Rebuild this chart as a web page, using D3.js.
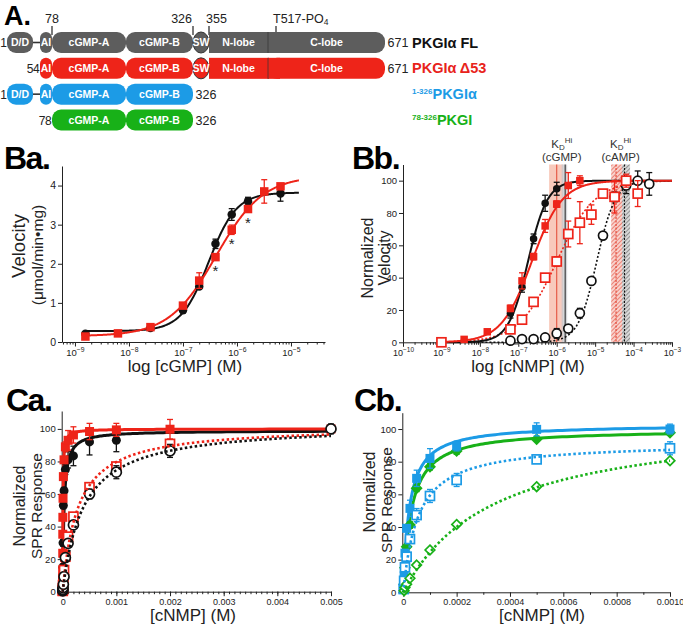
<!DOCTYPE html>
<html><head><meta charset="utf-8">
<script src="https://cdn.jsdelivr.net/npm/d3@7"></script>
<style>
body{margin:0;background:#fff}
svg{display:block}
text{font-family:"Liberation Sans",Arial,Helvetica,sans-serif}
</style>
</head><body>
<svg id="c" width="683" height="629"></svg>
<script>
// ---------------- DATA ----------------
// Panel A: domain schematic
const constructs = ["PKGIα FL", "PKGIα Δ53", "PKGIα", "PKGI"];
const constructPrefix = ["", "", "1-326", "78-326"];
const constructStart = [1, 54, 1, 78];
const constructEnd = [671, 671, 326, 326];
const domainNames = ["D/D", "AI", "cGMP-A", "cGMP-B", "SW", "N-lobe", "C-lobe"];
const domainStart = [1, 54, 78, 200, 326, 355, 480];
const domainEnd = [45, 78, 200, 326, 355, 480, 671];
const constructDomains = [[0,1,2,3,4,5,6], [1,2,3,4,5,6], [0,1,2,3], [2,3]];
const siteLabels = ["78", "326", "355", "T517-PO"];
const siteResidues = [78, 326, 355, 517];

// Panel Ba: velocity vs log [cGMP]
const baConc = [1.56e-9, 6.25e-9, 2.5e-8, 1e-7, 2e-7, 4e-7, 8e-7, 1.6e-6, 3.2e-6, 6.4e-6];
const baFL = [0.21, null, 0.36, 0.81, 1.42, 2.51, 3.26, 3.60, null, 3.80];
const baFLErr = [0.03, null, 0.03, 0.06, 0.05, 0.12, 0.15, 0.10, null, 0.20];
const baD53 = [0.14, 0.22, 0.38, 0.93, 1.57, 2.17, 2.87, 3.40, 3.85, 3.98];
const baD53Err = [0.04, 0.03, 0.04, 0.06, 0.20, 0.06, 0.12, 0.06, 0.30, 0.05];
const baFitFL = [0.28, 3.82, 3.0e-7, 1.7];   // bottom, top, EC50, Hill
const baFitD53 = [0.15, 4.25, 4.1e-7, 1.0];
const baSignif = [4e-7, 8e-7, 1.6e-6];

// Panel Bb: normalized velocity vs log [cNMP]
const bbFLcGMPx = [6.25e-8, 1.25e-7, 2.5e-7, 5e-7, 1e-6];
const bbFLcGMPy = [18, 34, 64, 86, 95];
const bbFLcGMPe = [3, 3, 3, 5, 4];
const bbD53cGMPx = [3.9e-9, 1.56e-8, 6.25e-8, 1.25e-7, 2.5e-7, 5e-7, 1e-6, 2e-6, 4e-6];
const bbD53cGMPy = [1.8, 6.5, 21, 38, 53, 72, 85.5, 97, 100];
const bbD53cGMPe = [1, 1.5, 2, 5, 2, 4, 2, 8, 3];
const bbD53cAMPx = [1e-9, 6.25e-8, 1.25e-7, 2.5e-7, 5e-7, 1e-6, 2e-6, 4e-6, 8e-6, 1.6e-5, 3.2e-5, 6.4e-5, 1.28e-4];
const bbD53cAMPy = [0, 8, 14, 25, 40, 50, 67, 74, 79, 92, 90, 100, 92];
const bbD53cAMPe = [0, 1, 1, 2, 2, 3, 8, 13, 6, 2, 10, 4, 8];
const bbFLcAMPx = [6.25e-8, 1.25e-7, 2.5e-7, 5e-7, 1e-6, 2e-6, 4e-6, 8e-6, 1.6e-5, 3.2e-5, 6.4e-5, 1.28e-4, 2.56e-4];
const bbFLcAMPy = [1, 2, 2, 3, 5.5, 8.5, 18, 38, 66, 90, 97, 100, 98];
const bbFLcAMPe = [1, 1, 1, 1, 3, 2, 3, 2, 2, 3, 5, 6, 7];
const bbFitFLcGMP = [0, 100, 1.79e-7, 1.72];
const bbFitD53cGMP = [0, 100, 2.25e-7, 1.1];
const bbFitD53cAMP = [0, 100, 1.0e-6, 0.88];
const bbFitFLcAMP = [0, 100, 1.1e-5, 1.8];
const kdLabels = ["cGMP", "cAMP"];
const kdLabelPos = [1.35e-6, 4.6e-5];
const kdCenter = [1.0e-6, 1.66e-6, 3.5e-5, 5.8e-5];
const kdLow = [6.34e-7, 1.34e-6, 2.61e-5, 5.0e-5];
const kdHigh = [1.47e-6, 1.87e-6, 5.05e-5, 8.1e-5];

// Panel Ca: SPR, PKGIα FL vs Δ53
const caD53cGMPx = [1.95e-7, 3.9e-7, 7.8e-7, 1.56e-6, 3.13e-6, 6.25e-6, 1.25e-5, 2.5e-5, 5e-5, 1e-4, 2e-4, 5e-4, 1e-3, 2e-3, 5e-3];
const caD53cGMPy = [3, 13.3, 23.6, 35.3, 45.7, 57.4, 70.7, 81, 89, 93, 96.3, 98.4, 99.4, 99.8, 100];
const caD53cGMPe = [1, 1, 1, 1, 1, 1, 1, 2, 3, 6, 5, 5, 4, 6, 2];
const caFLcGMPx = [7.8e-7, 1.56e-6, 3.13e-6, 6.25e-6, 1.25e-5, 2.5e-5, 5e-5, 1e-4, 2e-4, 5e-4, 1e-3];
const caFLcGMPy = [4, 8, 15, 30, 53, 62, 75, 81, 83.4, 92, 93];
const caFLcGMPe = [1, 1, 2, 2, 2, 2, 3, 5, 6, 8, 7];
const caD53cAMPx = [7.8e-7, 1.56e-6, 3.13e-6, 6.25e-6, 1.25e-5, 2.5e-5, 5e-5, 1e-4, 2e-4, 5e-4, 1e-3, 2e-3];
const caD53cAMPy = [0.5, 1, 2, 4, 8, 13.3, 21.5, 33.8, 46.1, 64.2, 76.9, 90.8];
const caD53cAMPe = [0, 0, 0, 0, 1, 1, 1, 1, 1, 1, 2, 2];
const caFLcAMPx = [7.8e-7, 1.56e-6, 3.13e-6, 6.25e-6, 1.25e-5, 2.5e-5, 5e-5, 1e-4, 2e-4, 5e-4, 1e-3, 2e-3, 5e-3];
const caFLcAMPy = [0.5, 1, 1.5, 2.5, 4.5, 9.2, 20.9, 29.7, 41, 60, 73.4, 86.5, 100];
const caFLcAMPe = [0, 0, 0, 0, 1, 1, 1, 2, 2, 3, 4, 4, 3];
const caFitD53cGMP = [100, 5e-6];   // Bmax, Kd
const caFitFLcGMP = [99, 2.5e-5];
const caFitD53cAMP = [102, 2.8e-4];
const caFitFLcAMP = [103, 3.8e-4];

// Panel Cb: SPR, 1-326 PKGIα vs 78-326 PKGI
const cbBluecGMPx = [3.1e-6, 6.25e-6, 1.25e-5, 2.5e-5, 5e-5, 1e-4, 2e-4, 5e-4, 1e-3];
const cbBluecGMPy = [10, 24, 39.2, 51.4, 69.8, 82, 89.6, 99.8, 100];
const cbBluecGMPe = [1, 2, 2, 5, 5, 6, 3, 4, 3];
const cbGreencGMPx = [3.1e-6, 6.25e-6, 1.25e-5, 2.5e-5, 5e-5, 1e-4, 2e-4, 5e-4, 1e-3];
const cbGreencGMPy = [5, 15, 27.9, 41.2, 63.7, 76.9, 86.5, 93.7, 97.7];
const cbGreencGMPe = [0, 1, 1, 2, 2, 2, 2, 1, 1];
const cbBluecAMPx = [1.5e-6, 3.1e-6, 6.25e-6, 1.25e-5, 2.5e-5, 5e-5, 1e-4, 2e-4, 5e-4, 1e-3];
const cbBluecAMPy = [2, 7, 15.3, 21.8, 32.6, 47.3, 59, 68.8, 81.4, 88.2];
const cbBluecAMPe = [0, 1, 1, 2, 2, 4, 4, 4, 2, 4];
const cbGreencAMPx = [3.1e-6, 6.25e-6, 1.25e-5, 2.5e-5, 5e-5, 1e-4, 2e-4, 5e-4, 1e-3];
const cbGreencAMPy = [1, 3, 5, 8.6, 16.7, 25.9, 41.6, 64.7, 80.6];
const cbGreencAMPe = [0, 0, 0, 1, 1, 1, 1, 1, 1];
const cbFitBluecGMP = [103, 2.3e-5];
const cbFitGreencGMP = [100, 3.0e-5];
const cbFitBluecAMP = [92, 5.5e-5];
const cbFitGreencAMP = [108, 3.4e-4];

// ---------------- STYLE ----------------
const RED = "#ee2419", BLACK = "#111111", BLUE = "#1c9be6", GREEN = "#18b118", GRAY = "#5d5d5d";
const constructColors = [GRAY, RED, BLUE, GREEN];
const constructLabelColors = [BLACK, "#e8231b", BLUE, GREEN];

const svg = d3.select("#c");
const defs = svg.append("defs");
function hatch(id, bg, line) {
  const p = defs.append("pattern").attr("id", id).attr("patternUnits", "userSpaceOnUse")
    .attr("width", 3).attr("height", 3).attr("patternTransform", "rotate(45)");
  p.append("rect").attr("width", 3).attr("height", 3).attr("fill", bg);
  p.append("line").attr("x1", 0).attr("y1", 0).attr("x2", 0).attr("y2", 3).attr("stroke", line).attr("stroke-width", 1.1);
}
hatch("hatchRed", "#f8d2cc", "#e2402f");
hatch("hatchGray", "#d8d8d8", "#555");

const hill = (p, x) => p[0] + (p[1] - p[0]) / (1 + Math.pow(p[2] / x, p[3]));
const hyper = (p, x) => p[0] * x / (p[1] + x);

// ---------------- PANEL A ----------------
const aScale = d3.scaleLinear()
  .domain([1, 45, 54, 78, 200, 326, 355, 480, 517, 671])
  .range([7, 33, 40, 52, 126, 193, 209, 268, 276, 385]);
const aRow = d3.scalePoint().domain(constructs).range([42.5, 120]);
const barH = 21;
const gA = svg.append("g");
gA.append("text").attr("x", 4).attr("y", 25).attr("font-size", 27).attr("font-weight", "bold").text("A.");

// site annotations
const siteAnchor = ["middle", "end", "start", "start"];
const siteDx = [0, -1, -3, -3];
siteLabels.forEach((s, i) => {
  const x = aScale(siteResidues[i]);
  gA.append("line").attr("x1", x).attr("x2", x).attr("y1", 26).attr("y2", i === 3 ? 33 : 35)
    .attr("stroke", "#222").attr("stroke-width", 1.2);
  const t = gA.append("text").attr("x", x + siteDx[i]).attr("y", 23).attr("font-size", 12.5)
    .attr("fill", "#222").attr("text-anchor", siteAnchor[i]).text(s);
  if (i === 3) t.append("tspan").attr("font-size", 8.5).attr("dy", 2).text("4");
});

constructs.forEach((c, i) => {
  const cy = aRow(c);
  const y0 = cy - barH / 2;
  const col = constructColors[i];
  const doms = constructDomains[i];
  const g = gA.append("g");
  if (doms.includes(0) && doms.includes(1)) {
    g.append("line").attr("x1", aScale(45)).attr("x2", aScale(54)).attr("y1", cy).attr("y2", cy)
      .attr("stroke", "#333").attr("stroke-width", 1.6);
  }
  doms.forEach(d => {
    const name = domainNames[d];
    const x0 = aScale(domainStart[d]), x1 = aScale(domainEnd[d]);
    if (name === "SW") return;
    if (name === "N-lobe") {
      g.append("rect").attr("x", x0).attr("y", y0).attr("width", x1 - x0 + 1).attr("height", barH).attr("fill", col);
    } else if (name === "C-lobe") {
      g.append("rect").attr("x", x0).attr("y", y0).attr("width", x1 - x0).attr("height", barH).attr("rx", 9).attr("fill", col);
      g.append("rect").attr("x", x0).attr("y", y0).attr("width", 12).attr("height", barH).attr("fill", col);
      g.append("line").attr("x1", x0).attr("x2", x0).attr("y1", y0).attr("y2", y0 + barH)
        .attr("stroke", "#333").attr("stroke-opacity", 0.7).attr("stroke-width", 1);
    } else {
      g.append("rect").attr("x", x0).attr("y", y0).attr("width", x1 - x0).attr("height", barH)
        .attr("rx", Math.min(9, (x1 - x0) / 2)).attr("fill", col);
    }
  });
  doms.forEach(d => {
    const name = domainNames[d];
    const x0 = aScale(domainStart[d]), x1 = aScale(domainEnd[d]);
    if (name === "SW") {
      g.append("ellipse").attr("cx", (x0 + x1) / 2).attr("cy", cy).attr("rx", (x1 - x0) / 2).attr("ry", barH / 2)
        .attr("fill", col).attr("stroke", "#333").attr("stroke-width", 1);
    }
    g.append("text").attr("x", (x0 + x1) / 2).attr("y", cy + 3.8).attr("text-anchor", "middle")
      .attr("font-family", "'Open Sans', sans-serif").attr("font-weight", 600).attr("font-size", 10.5)
      .attr("fill", "#fff").text(name);
  });
  g.append("text").attr("x", aScale(constructStart[i]) - 0.5).attr("y", cy + 4.5).attr("text-anchor", "end")
    .attr("font-size", 12).attr("letter-spacing", -0.3).attr("fill", "#222").text(constructStart[i]);
  g.append("text").attr("x", aScale(constructEnd[i]) + 2.5).attr("y", cy + 4.5)
    .attr("font-size", 12.5).attr("fill", "#222").text(constructEnd[i]);
  const lt = g.append("text").attr("x", 412).attr("y", cy + 5).attr("font-size", 14.5).attr("font-weight", "bold")
    .attr("fill", constructLabelColors[i]);
  if (constructPrefix[i]) {
    lt.append("tspan").attr("font-size", 8).attr("dy", -5).text(constructPrefix[i]);
    lt.append("tspan").attr("dy", 5).text(c);
  } else lt.text(c);
});

// ---------------- HELPERS ----------------
function styleAxis(g, fs) {
  g.attr("font-family", "'Liberation Sans', Arial, sans-serif").attr("font-size", fs).attr("color", "#222");
  g.selectAll("path,line").attr("stroke-width", 1);
}
function logXAxis(g, x, y0, decades, fs) {
  const [d0, d1] = x.domain();
  const minors = [];
  for (let e = Math.floor(Math.log10(d0)); e <= Math.ceil(Math.log10(d1)); e++)
    for (let k = 2; k <= 9; k++) { const v = k * Math.pow(10, e); if (v >= d0 && v <= d1) minors.push(v); }
  const gm = g.append("g").attr("transform", `translate(0,${y0})`)
    .call(d3.axisBottom(x).tickValues(minors).tickSize(2.5).tickSizeOuter(0).tickFormat(""));
  gm.select(".domain").remove();
  styleAxis(gm, fs);
  const gM = g.append("g").attr("transform", `translate(0,${y0})`)
    .call(d3.axisBottom(x).tickValues(decades.map(e => Math.pow(10, e))).tickSize(4.5).tickPadding(1.5).tickSizeOuter(0).tickFormat(""));
  styleAxis(gM, fs);
  gM.selectAll(".tick text").each(function (d) {
    const t = d3.select(this);
    const e = Math.round(Math.log10(d));
    t.append("tspan").text("10");
    t.append("tspan").attr("dy", -4).attr("font-size", fs * 0.72).text("−" + Math.abs(e));
  }).attr("dy", "0.85em");
}
function linXAxis(g, x, y0, majors, minors, fmt, fs) {
  const gm = g.append("g").attr("transform", `translate(0,${y0})`)
    .call(d3.axisBottom(x).tickValues(minors).tickSize(2.5).tickSizeOuter(0).tickFormat(""));
  gm.select(".domain").remove();
  styleAxis(gm, fs);
  const gM = g.append("g").attr("transform", `translate(0,${y0})`)
    .call(d3.axisBottom(x).tickValues(majors).tickSize(4.5).tickPadding(2).tickSizeOuter(0).tickFormat(fmt));
  styleAxis(gM, fs);
}
function yAxis(g, y, x0, ticks, fs) {
  const ga = g.append("g").attr("transform", `translate(${x0},0)`)
    .call(d3.axisLeft(y).tickValues(ticks).tickSize(4).tickSizeOuter(0).tickPadding(2).tickFormat(d3.format("d")));
  styleAxis(ga, fs);
}
function marker(g, shape, open, color, size, cx, cy) {
  let m;
  if (shape === "circle") m = g.append("circle").attr("cx", cx).attr("cy", cy).attr("r", size / 2);
  else if (shape === "square") m = g.append("rect").attr("x", cx - size / 2).attr("y", cy - size / 2).attr("width", size).attr("height", size);
  else {
    const h = size / 2 * 1.2;
    m = g.append("path").attr("d", `M${cx},${cy - h}L${cx + h},${cy}L${cx},${cy + h}L${cx - h},${cy}Z`);
  }
  if (open) m.attr("fill", "#fff").attr("stroke", color).attr("stroke-width", 1.7);
  else m.attr("fill", color);
}
function series(g, x, y, xs, ys, es, opt) {
  const s = g.append("g");
  xs.forEach((xv, i) => {
    if (ys[i] == null) return;
    const e = es[i] || 0;
    if (e > 0) {
      const px = x(xv);
      s.append("line").attr("x1", px).attr("x2", px).attr("y1", y(ys[i] - e)).attr("y2", y(ys[i] + e))
        .attr("stroke", opt.color).attr("stroke-width", 1.3);
      [ys[i] - e, ys[i] + e].forEach(v => s.append("line").attr("x1", px - 3).attr("x2", px + 3)
        .attr("y1", y(v)).attr("y2", y(v)).attr("stroke", opt.color).attr("stroke-width", 1.3));
    }
  });
  xs.forEach((xv, i) => {
    if (ys[i] == null) return;
    marker(s, opt.shape, opt.open, opt.color, opt.size, x(xv), y(ys[i]));
  });
}
function curve(g, x, y, f, p, xsamp, opt) {
  const line = d3.line().x(d => x(d)).y(d => y(f(p, d)));
  const path = g.append("path").datum(xsamp).attr("d", line).attr("fill", "none")
    .attr("stroke", opt.color).attr("stroke-width", opt.width);
  if (opt.dash) path.attr("stroke-dasharray", opt.dash);
}
const logSamples = (a, b, n) => d3.range(n + 1).map(i => Math.pow(10, Math.log10(a) + (Math.log10(b) - Math.log10(a)) * i / n));
const hyperSamples = (b) => [0].concat(logSamples(1e-8, b, 400));
function yTitle(g, lines, xs, yc, fs) {
  lines.forEach((l, i) => g.append("text").attr("transform", `translate(${xs[i]},${yc[i]}) rotate(-90)`)
    .attr("text-anchor", "middle").attr("font-size", fs[i]).attr("fill", "#222").text(l));
}
function panelLetter(x, yb, s) {
  svg.append("text").attr("x", x).attr("y", yb).attr("font-size", 32).attr("font-weight", "bold")
    .attr("letter-spacing", -1.5).text(s);
}

// ---------------- PANEL Ba ----------------
{
  const g = svg.append("g");
  const x = d3.scaleLog().domain([Math.pow(10, -9.24), Math.pow(10, -4.37)]).range([62, 325]);
  const y = d3.scaleLinear().domain([0, 4.5]).range([342, 166]);
  panelLetter(4, 169, "Ba.");
  logXAxis(g, x, 342, [-9, -8, -7, -6, -5], 9.5);
  yAxis(g, y, 62, [0, 1, 2, 3, 4], 10.5);
  const xs = logSamples(1.56e-9, 1.4e-5, 300);
  curve(g, x, y, hill, baFitFL, xs, { color: BLACK, width: 2 });
  curve(g, x, y, hill, baFitD53, xs, { color: RED, width: 2 });
  series(g, x, y, baConc, baFL, baFLErr, { color: BLACK, shape: "circle", size: 8.5 });
  series(g, x, y, baConc, baD53, baD53Err, { color: RED, shape: "square", size: 8.5 });
  baSignif.forEach(c => {
    const i = baConc.indexOf(c);
    g.append("text").attr("x", x(c)).attr("y", y(baD53[i]) + 19).attr("text-anchor", "middle")
      .attr("font-size", 15).attr("fill", "#222").text("*");
  });
  yTitle(g, ["Velocity", "(μmol/min•mg)"], [25, 43], [246, 255], [18.5, 15.5]);
  g.append("text").attr("x", 185).attr("y", 372).attr("text-anchor", "middle").attr("font-size", 17)
    .attr("fill", "#222").text("log [cGMP] (M)");
}

// ---------------- PANEL Bb ----------------
{
  const g = svg.append("g");
  const x = d3.scaleLog().domain([1e-10, 1e-3]).range([403, 672]);
  const y = d3.scaleLinear().domain([0, 110]).range([342.3, 164.5]);
  panelLetter(352, 169, "Bb.");
  // KD bands
  const bandFill = ["#f6b8a6", "#c4c8cc", "url(#hatchRed)", "url(#hatchGray)"];
  const bandOp = [0.75, 0.7, 1, 1];
  const lineCol = ["#e4533f", "#333", "#e2402f", "#111"];
  const lineDash = [null, null, "2,1.5", "2,1.5"];
  [0, 2, 1, 3].forEach(i => {
    g.append("rect").attr("x", x(kdLow[i])).attr("y", y(110)).attr("width", x(kdHigh[i]) - x(kdLow[i]))
      .attr("height", y(0) - y(110)).attr("fill", bandFill[i]).attr("opacity", bandOp[i]);
  });
  kdCenter.forEach((c, i) => {
    const l = g.append("line").attr("x1", x(c)).attr("x2", x(c)).attr("y1", y(110)).attr("y2", y(0))
      .attr("stroke", lineCol[i]).attr("stroke-width", 1.1);
    if (lineDash[i]) l.attr("stroke-dasharray", lineDash[i]);
  });
  kdLabels.forEach((lab, i) => {
    const t = g.append("text").attr("x", x(kdLabelPos[i])).attr("y", 148).attr("text-anchor", "middle")
      .attr("font-size", 11.5).attr("fill", "#333");
    t.append("tspan").text("K");
    t.append("tspan").attr("font-size", 8).attr("dy", 2).text("D");
    t.append("tspan").attr("font-size", 8).attr("dy", -7).text("Hi");
    g.append("text").attr("x", x(kdLabelPos[i])).attr("y", 161).attr("text-anchor", "middle")
      .attr("font-size", 11.5).attr("fill", "#333").text("(" + lab + ")");
  });
  logXAxis(g, x, 342.3, [-10, -9, -8, -7, -6, -5, -4, -3], 9);
  yAxis(g, y, 403, [0, 20, 40, 60, 80, 100], 9.5);
  const xs = logSamples(1e-9, 1e-3, 400);
  curve(g, x, y, hill, bbFitD53cAMP, xs, { color: RED, width: 1.6, dash: "2,2" });
  curve(g, x, y, hill, bbFitFLcAMP, xs, { color: BLACK, width: 1.6, dash: "2,2" });
  curve(g, x, y, hill, bbFitFLcGMP, xs, { color: BLACK, width: 2 });
  curve(g, x, y, hill, bbFitD53cGMP, xs, { color: RED, width: 2 });
  series(g, x, y, bbFLcAMPx, bbFLcAMPy, bbFLcAMPe, { color: BLACK, shape: "circle", open: true, size: 9 });
  series(g, x, y, bbD53cAMPx, bbD53cAMPy, bbD53cAMPe, { color: RED, shape: "square", open: true, size: 9 });
  series(g, x, y, bbFLcGMPx, bbFLcGMPy, bbFLcGMPe, { color: BLACK, shape: "circle", size: 7.5 });
  series(g, x, y, bbD53cGMPx, bbD53cGMPy, bbD53cGMPe, { color: RED, shape: "square", size: 7.5 });
  yTitle(g, ["Normalized", "Velocity"], [373, 390], [258, 258], [16, 16]);
  g.append("text").attr("x", 528).attr("y", 372).attr("text-anchor", "middle").attr("font-size", 17)
    .attr("fill", "#222").text("log [cNMP] (M)");
}

// ---------------- PANEL Ca ----------------
{
  const g = svg.append("g");
  const x = d3.scaleLinear().domain([0, 0.005]).range([62.7, 331]);
  const y = d3.scaleLinear().domain([0, 111]).range([591.7, 411]);
  panelLetter(6, 411, "Ca.");
  linXAxis(g, x, 591.7, d3.range(0, 0.00501, 0.001), d3.range(0, 0.00501, 0.0001),
    d => d < 1e-9 ? "0" : d3.format(".3f")(d), 9);
  yAxis(g, y, 61.7, [0, 20, 40, 60, 80, 100], 9.5);
  const xs = hyperSamples(0.005);
  curve(g, x, y, hyper, caFitFLcGMP, xs, { color: BLACK, width: 3 });
  curve(g, x, y, hyper, caFitD53cGMP, xs, { color: RED, width: 3 });
  series(g, x, y, caFLcGMPx, caFLcGMPy, caFLcGMPe, { color: BLACK, shape: "circle", size: 9 });
  series(g, x, y, caD53cGMPx, caD53cGMPy, caD53cGMPe, { color: RED, shape: "square", size: 9 });
  series(g, x, y, caD53cAMPx, caD53cAMPy, caD53cAMPe, { color: RED, shape: "square", open: true, size: 9 });
  series(g, x, y, caFLcAMPx, caFLcAMPy, caFLcAMPe, { color: BLACK, shape: "circle", open: true, size: 10 });
  curve(g, x, y, hyper, caFitD53cAMP, xs, { color: RED, width: 2.6, dash: "2.5,2.5" });
  curve(g, x, y, hyper, caFitFLcAMP, xs, { color: BLACK, width: 2.6, dash: "2.5,2.5" });
  yTitle(g, ["Normalized", "SPR Response"], [25, 42], [506, 506], [16, 15.5]);
  g.append("text").attr("x", 193).attr("y", 621).attr("text-anchor", "middle").attr("font-size", 17)
    .attr("fill", "#222").text("[cNMP] (M)");
}

// ---------------- PANEL Cb ----------------
{
  const g = svg.append("g");
  const x = d3.scaleLinear().domain([0, 0.001]).range([403.3, 670]);
  const y = d3.scaleLinear().domain([0, 110]).range([592.3, 412.7]);
  panelLetter(354, 411, "Cb.");
  linXAxis(g, x, 592.3, d3.range(0, 0.001001, 0.0002), d3.range(0.0001, 0.001, 0.0002),
    d => d < 1e-9 ? "0" : d3.format(".4f")(d), 9);
  yAxis(g, y, 402.3, [0, 20, 40, 60, 80, 100], 9.5);
  const xs = hyperSamples(0.001);
  curve(g, x, y, hyper, cbFitGreencGMP, xs, { color: GREEN, width: 3 });
  curve(g, x, y, hyper, cbFitBluecGMP, xs, { color: BLUE, width: 3 });
  series(g, x, y, cbGreencGMPx, cbGreencGMPy, cbGreencGMPe, { color: GREEN, shape: "diamond", size: 10 });
  series(g, x, y, cbBluecGMPx, cbBluecGMPy, cbBluecGMPe, { color: BLUE, shape: "square", size: 9 });
  series(g, x, y, cbBluecAMPx, cbBluecAMPy, cbBluecAMPe, { color: BLUE, shape: "square", open: true, size: 9 });
  series(g, x, y, cbGreencAMPx, cbGreencAMPy, cbGreencAMPe, { color: GREEN, shape: "diamond", open: true, size: 8 });
  curve(g, x, y, hyper, cbFitBluecAMP, xs, { color: BLUE, width: 2.6, dash: "2.5,2.5" });
  curve(g, x, y, hyper, cbFitGreencAMP, xs, { color: GREEN, width: 2.6, dash: "2.5,2.5" });
  yTitle(g, ["Normalized", "SPR Response"], [375, 392], [492, 500], [16, 15.5]);
  g.append("text").attr("x", 542).attr("y", 621).attr("text-anchor", "middle").attr("font-size", 17)
    .attr("fill", "#222").text("[cNMP] (M)");
}
</script>
</body></html>
